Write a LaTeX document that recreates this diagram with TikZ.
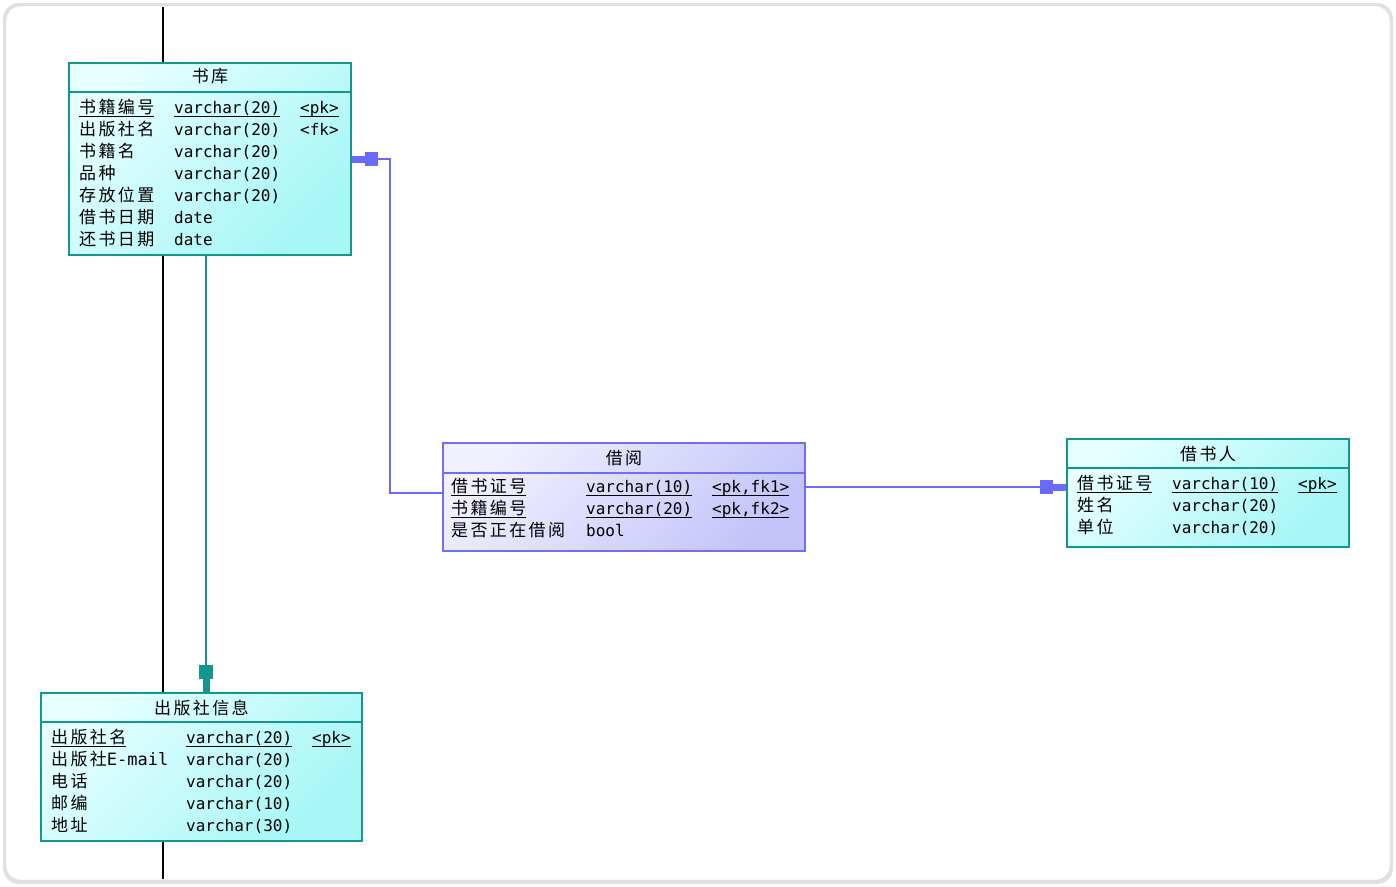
\documentclass[tikz,border=0pt]{standalone}
\usepackage{fontspec}
\setmainfont{Noto Sans CJK SC}[LetterSpace=14]
\setmonofont{DejaVu Sans Mono}
\usetikzlibrary{arrows.meta, positioning, calc}
\definecolor{tealb}{RGB}{20,150,140}
\definecolor{cyanlt}{RGB}{230,255,255}
\definecolor{cyandk}{RGB}{166,246,246}
\definecolor{violb}{RGB}{112,112,238}
\definecolor{viollt}{RGB}{240,240,255}
\definecolor{violdk}{RGB}{196,196,250}
\definecolor{linkc}{RGB}{105,105,255}
\definecolor{framec}{RGB}{212,212,212}
\tikzset{
  tbl/.style={rectangle, draw=tealb, line width=2pt, top color=cyanlt, bottom color=cyandk,
              shading angle=45, inner sep=0pt},
  rel/.style={rectangle, draw=violb, line width=2pt, top color=viollt, bottom color=violdk,
              shading angle=45, inner sep=0pt},
  tname/.style={anchor=base, inner sep=0pt, font=\fontsize{17}{22}\selectfont},
  fld/.style={anchor=base west, inner sep=0pt, font=\fontsize{17}{22}\selectfont},
  typ/.style={anchor=base west, inner sep=0pt, font=\ttfamily\fontsize{16}{22}\selectfont},
  tarr/.style={draw=tealb, line width=2pt,
               -{Rectangle[length=14pt,width=14pt]Rectangle[length=13pt,width=7pt]}},
  parr/.style={draw=linkc, line width=2pt,
               -{Rectangle[length=13pt,width=14pt]Rectangle[length=13pt,width=7pt]}},
}
\newcommand{\pkline}[1]{\setbox0=\hbox{#1}\rlap{\rule[-4pt]{\wd0}{1.5pt}}\box0}
\newcommand{\hdr}[3]{\draw[#1, line width=2pt] (#2.west |- 0,#3) -- (#2.east |- 0,#3);}

\begin{document}
\begin{tikzpicture}[x=1pt, y=-1pt]
\useasboundingbox (0,0) rectangle (1396,886);
\fill[framec!70, rounded corners=16pt] (3,3) rectangle (1393,884);
\draw[framec, fill=white, rounded corners=14pt] (6,6) rectangle (1390,880);
\coordinate (ltop) at (163,7);
\coordinate (lbot) at (163,879);
\draw[line width=2pt] (ltop) -- (lbot);

% 书库
\node[tbl, minimum width=282pt, minimum height=192pt] (sk) at (210,159) {};
\node[tname] (sk-t) at (210,82) {书库};
\hdr{tealb}{sk}{92}
\node[fld] (sk-n1) at (79,113) {\pkline{书籍编号}};
\node[typ] (sk-y1) at (174,113) {\pkline{varchar(20)}};
\node[typ] (sk-k1) at (300,113) {\pkline{<pk>}};
\node[typ] (sk-k2) at (300,135) {<fk>};
\foreach \nm/\ty [count=\i from 2] in {出版社名/varchar(20), 书籍名/varchar(20), 品种/varchar(20),
    存放位置/varchar(20), 借书日期/date, 还书日期/date}{
  \node[fld] (sk-n\i) at (79,{91+22*\i}) {\nm};
  \node[typ] (sk-y\i) at (174,{91+22*\i}) {\ty};
}

% 出版社信息
\node[tbl, minimum width=321pt, minimum height=148pt] (pub) at (201.5,767) {};
\node[tname] (pub-t) at (201.5,714) {出版社信息};
\hdr{tealb}{pub}{722}
\node[fld] (pub-n1) at (51,743) {\pkline{出版社名}};
\node[typ] (pub-y1) at (186,743) {\pkline{varchar(20)}};
\node[typ] (pub-k1) at (312,743) {\pkline{<pk>}};
\foreach \nm/\ty [count=\i from 2] in {出版社{\ttfamily E-mail}/varchar(20), 电话/varchar(20),
    邮编/varchar(10), 地址/varchar(30)}{
  \node[fld] (pub-n\i) at (51,{721+22*\i}) {\nm};
  \node[typ] (pub-y\i) at (186,{721+22*\i}) {\ty};
}

% 借阅
\node[rel, minimum width=362pt, minimum height=108pt] (jy) at (624,497) {};
\node[tname] (jy-t) at (624,464) {借阅};
\hdr{violb}{jy}{473}
\node[fld] (jy-n1) at (451,492) {\pkline{借书证号}};
\node[typ] (jy-y1) at (586,492) {\pkline{varchar(10)}};
\node[typ] (jy-k1) at (712,492) {\pkline{<pk,fk1>}};
\node[fld] (jy-n2) at (451,514) {\pkline{书籍编号}};
\node[typ] (jy-y2) at (586,514) {\pkline{varchar(20)}};
\node[typ] (jy-k2) at (712,514) {\pkline{<pk,fk2>}};
\node[fld] (jy-n3) at (451,536) {是否正在借阅};
\node[typ] (jy-y3) at (586,536) {bool};

% 借书人
\node[tbl, minimum width=282pt, minimum height=108pt] (jbr) at (1208,493) {};
\node[tname] (jbr-t) at (1208,460) {借书人};
\hdr{tealb}{jbr}{468}
\node[fld] (jbr-n1) at (1077,489) {\pkline{借书证号}};
\node[typ] (jbr-y1) at (1172,489) {\pkline{varchar(10)}};
\node[typ] (jbr-k1) at (1298,489) {\pkline{<pk>}};
\node[fld] (jbr-n2) at (1077,511) {姓名};
\node[typ] (jbr-y2) at (1172,511) {varchar(20)};
\node[fld] (jbr-n3) at (1077,533) {单位};
\node[typ] (jbr-y3) at (1172,533) {varchar(20)};

% references
\draw[tarr] ([xshift=138pt]sk.south west) coordinate (t1) -- (t1 |- pub.north);
\draw[parr] ([yshift=4pt]jy.west) -- ++(-52,0) |- (sk.east);
\draw[parr] ([yshift=10pt]jy.east) coordinate (r1) -- (r1 -| jbr.west);
\end{tikzpicture}
\end{document}
